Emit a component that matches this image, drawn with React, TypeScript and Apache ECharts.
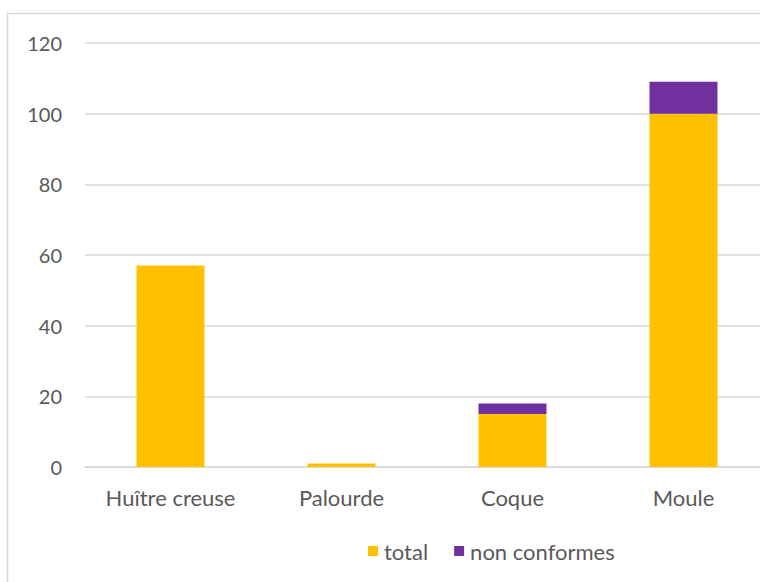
import React, { useEffect, useRef } from "react";
import * as echarts from "echarts";

const categories = ["Huître creuse", "Palourde", "Coque", "Moule"];
const totalValues = [57, 1, 15, 100];
const nonConformesValues = [0, 0, 3, 9];
const seriesNames = ["total", "non conformes"];

const FONT = "Lato";

export default function App() {
  const ref = useRef<HTMLDivElement>(null);

  useEffect(() => {
    if (!ref.current) return;
    const chart = echarts.init(ref.current, undefined, { renderer: "svg" });
    chart.setOption({
      animation: false,
      backgroundColor: "#ffffff",
      textStyle: { fontFamily: FONT },
      graphic: [
        {
          type: "rect",
          shape: { x: 7.5, y: 13.5, width: 800, height: 620 },
          style: { fill: "none", stroke: "#d9d9d9", lineWidth: 1.5 },
          silent: true,
        },
      ],
      grid: {
        left: 85,
        top: 43,
        width: 684,
        height: 424,
        containLabel: false,
        outerBoundsMode: "none",
      },
      legend: {
        left: 363,
        top: 535,
        icon: "rect",
        itemWidth: 10,
        itemHeight: 10,
        itemGap: 26,
        textStyle: { fontFamily: FONT, fontSize: 22, color: "#595959", padding: [0, 0, 0, 1] },
        data: seriesNames,
      },
      xAxis: {
        type: "category",
        data: categories,
        axisLine: { show: true, lineStyle: { color: "#d9d9d9", width: 1.5 } },
        axisTick: { show: false },
        axisLabel: { fontFamily: FONT, fontSize: 22, color: "#595959", margin: 19 },
      },
      yAxis: {
        type: "value",
        min: 0,
        max: 120,
        interval: 20,
        axisLine: { show: false },
        axisTick: { show: false },
        splitLine: { lineStyle: { color: "#d9d9d9", width: 1.5 } },
        axisLabel: { fontFamily: FONT, fontSize: 20, color: "#595959", margin: 23 },
      },
      series: [
        {
          name: seriesNames[0],
          type: "bar",
          stack: "s",
          barWidth: 68,
          itemStyle: { color: "#FFC000" },
          data: totalValues,
        },
        {
          name: seriesNames[1],
          type: "bar",
          stack: "s",
          barWidth: 68,
          itemStyle: { color: "#7030A0" },
          data: nonConformesValues,
        },
      ],
    });
    return () => chart.dispose();
  }, []);

  return (
    <div
      ref={ref}
      style={{ position: "fixed", left: 0, top: 0, width: 760, height: 582 }}
    />
  );
}
